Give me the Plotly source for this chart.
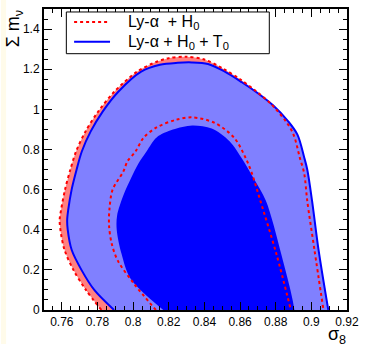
import plotly.graph_objects as go

# contour boundaries (sigma_8, sum m_nu)
r95_x = [0.7822, 0.7735, 0.7665, 0.7615, 0.7592, 0.7588, 0.7596, 0.7618, 0.7648, 0.7680, 0.7733,
         0.7805, 0.7896, 0.8023, 0.8132, 0.8200, 0.8296, 0.8400, 0.8500, 0.8600, 0.8690, 0.8770,
         0.8857, 0.8900, 0.8935, 0.8960, 0.8977, 0.9017, 0.9068]
r95_y = [0.0, 0.1, 0.2, 0.3, 0.4, 0.45, 0.5, 0.6, 0.7, 0.79, 0.89,
         0.99, 1.089, 1.188, 1.237, 1.255, 1.262, 1.248, 1.205, 1.15, 1.09, 1.03,
         0.94, 0.874, 0.76, 0.68, 0.544, 0.302, 0.0]

b95_x = [0.7893, 0.7782, 0.7710, 0.7655, 0.7633, 0.7630, 0.7636, 0.7655, 0.7683, 0.7712, 0.7762,
         0.7830, 0.7918, 0.8045, 0.8150, 0.8250, 0.8330, 0.8420, 0.8510, 0.8610, 0.8700, 0.8785,
         0.8870, 0.8922, 0.8960, 0.8977, 0.9004, 0.9040, 0.9095]
b95_y = [0.0, 0.1, 0.2, 0.3, 0.4, 0.45, 0.5, 0.6, 0.7, 0.79, 0.89,
         0.99, 1.089, 1.188, 1.222, 1.232, 1.234, 1.226, 1.19, 1.135, 1.08, 1.02,
         0.94, 0.874, 0.76, 0.70, 0.544, 0.302, 0.0]

r68_x = [0.8128, 0.8005, 0.7914, 0.7880, 0.7865, 0.7867, 0.7885, 0.7945, 0.7969, 0.8014, 0.8060,
         0.8132, 0.8241, 0.8332, 0.8459, 0.8568, 0.8630, 0.8666, 0.8714, 0.8804, 0.8885]
r68_y = [0.0, 0.131, 0.246, 0.33, 0.42, 0.5, 0.6, 0.69, 0.742, 0.791, 0.86,
         0.91, 0.948, 0.96, 0.932, 0.857, 0.76, 0.682, 0.544, 0.279, 0.0]

b68_x = [0.8169, 0.7987, 0.7935, 0.7908, 0.7910, 0.7945, 0.7990, 0.8030, 0.8075, 0.8132, 0.8223,
         0.8332, 0.8441, 0.8541, 0.8614, 0.8680, 0.8745, 0.8831, 0.8905]
b68_y = [0.0, 0.154, 0.28, 0.40, 0.47, 0.57, 0.66, 0.73, 0.79, 0.86, 0.899,
         0.92, 0.904, 0.841, 0.75, 0.65, 0.544, 0.279, 0.0]

legend_names = ["Ly-α  + H<sub>0</sub>", "Ly-α + H<sub>0</sub> + T<sub>0</sub>"]
x_range = [0.75, 0.92]
y_range = [0, 1.5]

W, H = 366, 344
ML, MR, MT, MB = 44, 10, 7, 34
PW, PH = W - ML - MR, H - MT - MB


def px_x(px):
    return (px - ML) / PW


def px_y(py):
    return (H - MB - py) / PH


def closed(xs, ys):
    # close the region below the lower axis edge (hidden by clipping)
    return xs + [xs[-1], xs[0]], ys + [-0.1, -0.1]


FONT = "Liberation Sans, Arial, sans-serif"
SM = 0.9
fig = go.Figure()

for xs, ys, col in [(r95_x, r95_y, "#FF8080"), (b95_x, b95_y, "#8080FF"), (b68_x, b68_y, "#0000FF")]:
    cx, cy = closed(xs, ys)
    fig.add_trace(go.Scatter(x=cx, y=cy, mode="lines", fill="toself", fillcolor=col,
                             line=dict(width=0, color=col, shape="spline", smoothing=SM),
                             showlegend=False, hoverinfo="skip"))

fig.add_trace(go.Scatter(x=b95_x, y=b95_y, mode="lines",
                         line=dict(color="#0000FF", width=2, shape="spline", smoothing=SM),
                         name=legend_names[1], showlegend=False))
fig.add_trace(go.Scatter(x=r95_x, y=r95_y, mode="lines",
                         line=dict(color="#FF0000", width=2, dash="dot", shape="spline", smoothing=SM),
                         name=legend_names[0], showlegend=False))
fig.add_trace(go.Scatter(x=r68_x, y=r68_y, mode="lines",
                         line=dict(color="#FF0000", width=2, dash="dot", shape="spline", smoothing=SM),
                         showlegend=False))

axis_common = dict(showgrid=False, zeroline=False, showline=True, linecolor="black", linewidth=2,
                   mirror="allticks", ticks="inside", ticklen=8, tickwidth=1, tickcolor="black",
                   ticklabeloverflow="allow",
                   tickfont=dict(family=FONT, size=12, color="black"))

fig.update_xaxes(range=x_range, dtick=0.02, tick0=0.76,
                 minor=dict(ticks="inside", ticklen=4, dtick=0.005, tickcolor="black"), **axis_common)
fig.update_yaxes(range=y_range, dtick=0.2, tick0=0,
                 minor=dict(ticks="inside", ticklen=4, dtick=0.05, tickcolor="black"), **axis_common)

# hand-drawn legend box (paper coordinates)
shapes = [
    dict(type="rect", xref="paper", yref="paper", x0=-0.142, x1=-0.125, y0=-0.12, y1=1.03,
         fillcolor="#FFFBEA", line=dict(width=0), layer="below"),
    dict(type="rect", xref="paper", yref="paper", x0=px_x(67), x1=px_x(276), y0=px_y(52), y1=px_y(10),
         fillcolor="white", line=dict(color="black", width=1), layer="above"),
    dict(type="line", xref="paper", yref="paper", x0=px_x(75), x1=px_x(112), y0=px_y(20), y1=px_y(20),
         line=dict(color="#FF0000", width=2, dash="dot"), layer="above"),
    dict(type="line", xref="paper", yref="paper", x0=px_x(75), x1=px_x(112), y0=px_y(40), y1=px_y(40),
         line=dict(color="#0000FF", width=2), layer="above"),
]

annotations = [
    dict(text=legend_names[0], xref="paper", yref="paper", x=px_x(128), y=px_y(21),
         xanchor="left", yanchor="middle", showarrow=False, font=dict(family=FONT, size=16)),
    dict(text=legend_names[1], xref="paper", yref="paper", x=px_x(128), y=px_y(41),
         xanchor="left", yanchor="middle", showarrow=False, font=dict(family=FONT, size=16)),
    dict(text="Σ m<sub>ν</sub>", xref="paper", yref="paper", x=px_x(14), y=px_y(6),
         xanchor="center", yanchor="top", textangle=-90, showarrow=False,
         font=dict(family=FONT, size=18)),
    dict(text="σ<sub>8</sub>", xref="paper", yref="paper", x=1.0, y=px_y(348),
         xanchor="right", yanchor="bottom", showarrow=False, borderpad=0,
         font=dict(family=FONT, size=18)),
]

fig.update_layout(
    width=W, height=H,
    margin=dict(l=ML, r=MR, t=MT, b=MB),
    paper_bgcolor="white", plot_bgcolor="white",
    font=dict(family=FONT, color="black"),
    showlegend=False,
    annotations=annotations,
    shapes=shapes,
)

fig.write_html("out.html", config={"displayModeBar": False},
               post_script="document.body.style.margin='0';document.body.style.padding='0';")
